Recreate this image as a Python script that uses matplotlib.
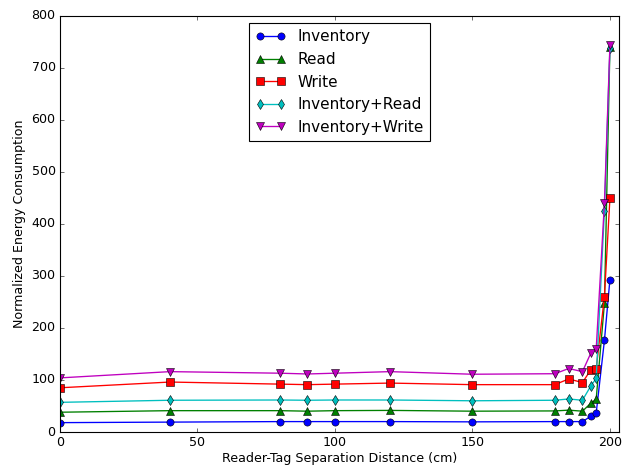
"""Normalized energy consumption vs reader-tag separation distance."""

import matplotlib
matplotlib.use("Agg")
import matplotlib.pyplot as plt

plt.style.use("classic")
plt.rcParams["font.size"] = 11.4

distance_cm = [0, 40, 80, 90, 100, 120, 150, 180, 185, 190, 193, 195, 198, 200]

inventory = [18, 19, 20, 20, 20, 20, 19.5, 20, 20, 20, 30, 36, 176, 293]
read = [38, 41, 41, 40, 41, 41.5, 40, 40.5, 42, 40, 55, 63, 247, 740]
write = [85, 96, 92, 91, 92, 94, 91, 91, 102, 95, 119, 121, 260, 449]
inventory_read = [57, 61, 61.5, 61, 61.5, 61.5, 60, 61, 63.5, 61, 88, 103, 425, 738]
inventory_write = [104, 116, 113, 111.5, 113, 116, 111, 112, 122, 116, 151, 159, 440, 743]

series = [
    ("Inventory", inventory, "b", "o"),
    ("Read", read, "g", "^"),
    ("Write", write, "r", "s"),
    ("Inventory+Read", inventory_read, "c", "d"),
    ("Inventory+Write", inventory_write, "m", "v"),
]

fig = plt.figure(figsize=(626 / 80, 466 / 80), dpi=80, facecolor="white")
ax = fig.add_axes([60 / 626, 1 - 432 / 466, 559 / 626, 416.3 / 466])

for label, values, color, marker in series:
    ax.plot(distance_cm, values, color=color, marker=marker, label=label,
            linewidth=1.2, markersize=6.5)

ax.set_xlim(0, 203.3)
ax.set_ylim(0, 800)
ax.set_xticks([0, 50, 100, 150, 200])
ax.set_xlabel("Reader-Tag Separation Distance (cm)", labelpad=2)
ax.set_ylabel("Normalized Energy Consumption")
ax.legend(loc="upper center", fontsize="large")

fig.savefig("out.png", dpi=80, facecolor="white")
